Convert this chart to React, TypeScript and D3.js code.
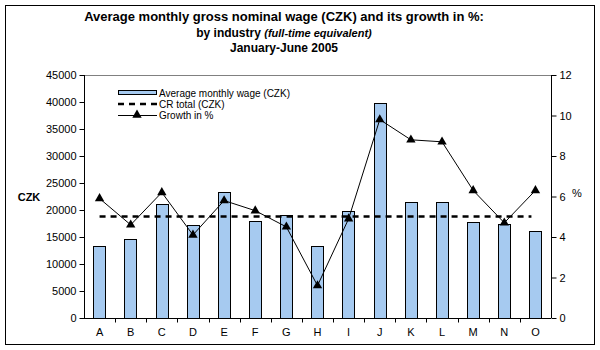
import React, { useRef, useEffect } from 'react';
import * as d3 from 'd3';

const categories = ['A', 'B', 'C', 'D', 'E', 'F', 'G', 'H', 'I', 'J', 'K', 'L', 'M', 'N', 'O'];
const wages = [13300, 14600, 21200, 17200, 23300, 17900, 19000, 13300, 19900, 39800, 21500, 21500, 17700, 17500, 16200];
const growth = [5.9, 4.6, 6.2, 4.1, 5.8, 5.3, 4.5, 1.6, 4.9, 9.8, 8.8, 8.7, 6.3, 4.7, 6.3];
const crTotal = 18800;
const leftTicks = [0, 5000, 10000, 15000, 20000, 25000, 30000, 35000, 40000, 45000];
const rightTicks = [0, 2, 4, 6, 8, 10, 12];

const W = 600;
const H = 350;
const FONT = 'Arial, "Liberation Sans", sans-serif';
const BAR = '#a6caf0';

const App: React.FC = () => {
    const svgRef = useRef<SVGSVGElement | null>(null);

    useEffect(() => {
        if (!svgRef.current) return;
        const svg = d3.select(svgRef.current);
        svg.selectAll('*').remove();

        const left = 84;
        const right = 551;
        const top = 75;
        const bottom = 318;

        const x = d3.scaleBand().domain(categories).range([left, right]).paddingInner(0.6).paddingOuter(0.3);
        const xc = d3.scaleBand().domain(categories).range([left, right]);
        const yL = d3.scaleLinear().domain([0, 45000]).range([bottom, top]);
        const yR = d3.scaleLinear().domain([0, 12]).range([bottom, top]);

        // outer frame
        svg.append('rect')
            .attr('x', 5.5).attr('y', 5.5)
            .attr('width', 589).attr('height', 339)
            .attr('fill', 'white').attr('stroke', 'black');

        // title
        const tx = 284;
        const title = svg.append('text')
            .attr('text-anchor', 'middle')
            .attr('font-family', FONT)
            .attr('font-weight', 'bold')
            .attr('fill', 'black');
        title.append('tspan').attr('x', tx).attr('y', 21).attr('font-size', '13px')
            .text('Average monthly gross nominal wage (CZK) and its growth in %:');
        const l2 = title.append('tspan').attr('x', tx).attr('y', 37).attr('font-size', '12px');
        l2.append('tspan').text('by industry ');
        l2.append('tspan').attr('font-style', 'italic').attr('font-size', '11px').text('(full-time equivalent)');
        title.append('tspan').attr('x', tx).attr('y', 52).attr('font-size', '12px')
            .text('January-June 2005');

        // top border of plot area
        svg.append('line')
            .attr('x1', left).attr('x2', right)
            .attr('y1', top + 0.5).attr('y2', top + 0.5)
            .attr('stroke', '#808080');

        // bars
        svg.append('g')
            .selectAll('rect')
            .data(wages)
            .enter()
            .append('rect')
            .attr('x', (_, i) => Math.round(x(categories[i])!) + 0.5)
            .attr('y', (d) => Math.round(yL(d)) + 0.5)
            .attr('width', Math.round(x.bandwidth()))
            .attr('height', (d) => bottom - Math.round(yL(d)))
            .attr('fill', BAR)
            .attr('stroke', 'black')
            .attr('stroke-width', 1);

        // CR total dashed line
        const cx = (c: string) => xc(c)! + xc.bandwidth() / 2;
        svg.append('line')
            .attr('x1', cx(categories[0]))
            .attr('x2', cx(categories[categories.length - 1]) - 4)
            .attr('y1', Math.round(yL(crTotal)) + 0.5)
            .attr('y2', Math.round(yL(crTotal)) + 0.5)
            .attr('stroke', 'black')
            .attr('stroke-width', 2.5)
            .attr('stroke-dasharray', '6,5');

        // growth line
        const line = d3.line<number>()
            .x((_, i) => cx(categories[i]))
            .y((d) => yR(d));
        svg.append('path')
            .datum(growth)
            .attr('d', line)
            .attr('fill', 'none')
            .attr('stroke', 'black')
            .attr('stroke-width', 1);

        const tri = d3.symbol().type(d3.symbolTriangle).size(38);
        svg.append('g')
            .selectAll('path')
            .data(growth)
            .enter()
            .append('path')
            .attr('d', tri)
            .attr('transform', (d, i) => `translate(${cx(categories[i])},${yR(d)})`)
            .attr('fill', 'black');

        // left axis
        const gL = svg.append('g')
            .attr('transform', `translate(${left + 0.5},0)`)
            .call(d3.axisLeft(yL).tickValues(leftTicks).tickSize(5).tickPadding(3).tickFormat(d3.format('d')));
        // right axis
        const gR = svg.append('g')
            .attr('transform', `translate(${right + 0.5},0)`)
            .call(d3.axisRight(yR).tickValues(rightTicks).tickSize(5).tickPadding(3));
        // bottom axis with ticks at category boundaries
        const gB = svg.append('g')
            .attr('transform', `translate(0,${bottom + 0.5})`)
            .call(d3.axisBottom(xc).tickSize(0).tickPadding(10));
        gB.selectAll('.bound')
            .data(categories.slice(1))
            .enter()
            .append('line')
            .attr('x1', (c) => Math.round(xc(c)!) + 0.5)
            .attr('x2', (c) => Math.round(xc(c)!) + 0.5)
            .attr('y1', 0).attr('y2', 4)
            .attr('stroke', 'black');

        [gL, gR, gB].forEach((g) => {
            g.select('.domain').attr('stroke', 'black');
            g.selectAll('.tick line').attr('stroke', 'black');
            g.selectAll('text')
                .attr('font-family', FONT)
                .attr('font-size', '11px')
                .attr('fill', 'black');
        });
        gB.select('.domain').attr('d', `M${left},0H${right}`);
        gL.select('.domain').attr('d', `M0,${top}V${bottom}`);
        gR.select('.domain').attr('d', `M0,${top}V${bottom}`);

        // axis titles
        svg.append('text')
            .attr('x', 29).attr('y', 201)
            .attr('text-anchor', 'middle')
            .attr('font-family', FONT).attr('font-weight', 'bold').attr('font-size', '11px')
            .text('CZK');
        svg.append('text')
            .attr('x', 577).attr('y', 197)
            .attr('text-anchor', 'middle')
            .attr('font-family', FONT).attr('font-size', '11px')
            .text('%');

        // legend
        const lg = svg.append('g').attr('font-family', FONT).attr('font-size', '10px');
        lg.append('rect')
            .attr('x', 118.5).attr('y', 90.5).attr('width', 38).attr('height', 4)
            .attr('fill', BAR).attr('stroke', 'black');
        lg.append('text').attr('x', 159).attr('y', 97).text('Average monthly wage (CZK)');
        lg.append('line')
            .attr('x1', 118).attr('x2', 158).attr('y1', 104).attr('y2', 104)
            .attr('stroke', 'black').attr('stroke-width', 2.5).attr('stroke-dasharray', '6,5');
        lg.append('text').attr('x', 159).attr('y', 108).text('CR total (CZK)');
        lg.append('line')
            .attr('x1', 118).attr('x2', 157).attr('y1', 115.5).attr('y2', 115.5)
            .attr('stroke', 'black');
        lg.append('path')
            .attr('d', tri)
            .attr('transform', 'translate(137,115)')
            .attr('fill', 'black');
        lg.append('text').attr('x', 159).attr('y', 119).text('Growth in  %');
    }, []);

    return (
        <svg
            ref={svgRef}
            width={W}
            height={H}
            style={{ position: 'absolute', left: 0, top: 0, background: 'white' }}
        ></svg>
    );
};

export default App;
